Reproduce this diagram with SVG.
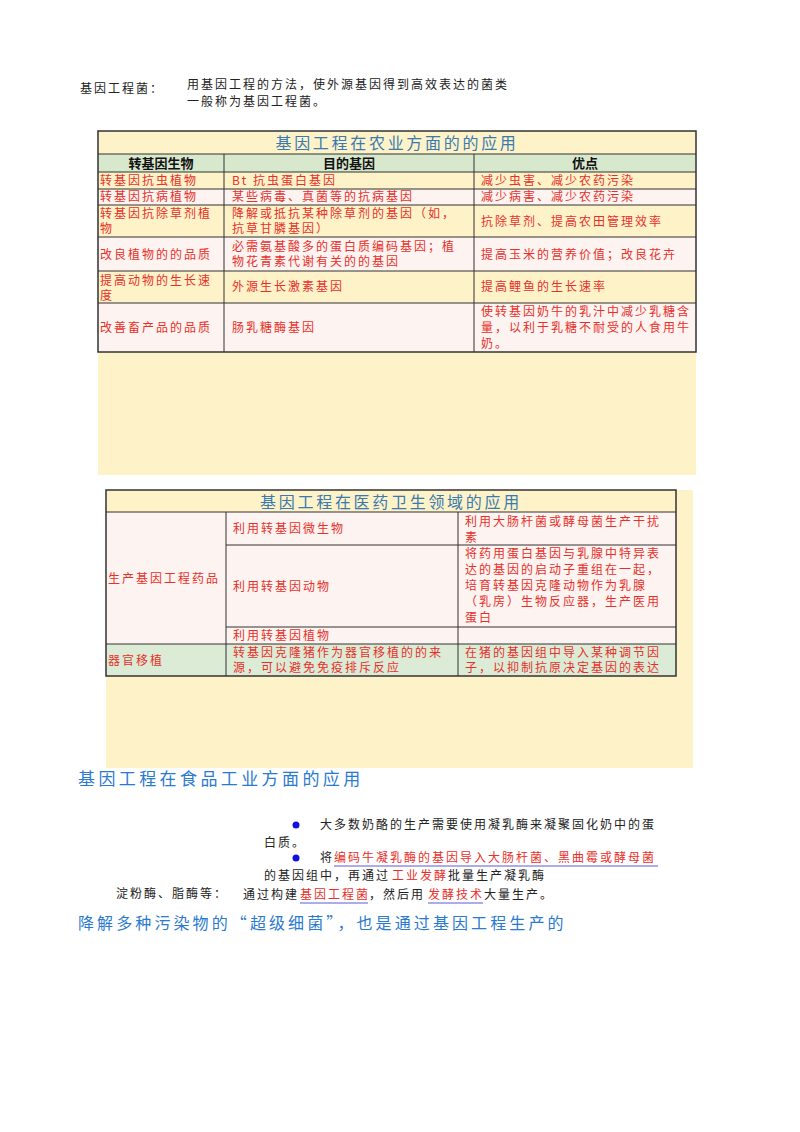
<svg xmlns="http://www.w3.org/2000/svg" width="800" height="1132" viewBox="0 0 800 1132">
<style>
text{font-family:"Noto Sans CJK SC","Liberation Serif",serif;}
.k{font-size:12px;fill:#222;letter-spacing:2px}
.r{font-size:12px;fill:#e8302a;letter-spacing:2px}
.h{font-size:13px;fill:#111;font-weight:bold}
.t{font-size:16px;fill:#3a7ab0;letter-spacing:2.7px}
.b{font-size:17px;fill:#2a7ad0;letter-spacing:3.4px}
.b2{font-size:16px;fill:#2a7ad0;letter-spacing:3.1px}
.g{stroke:#333;stroke-width:1;fill:none}
.u{stroke:#5a5ad8;stroke-width:1}
</style>
<rect width="800" height="1132" fill="#fff"/>
<g id="def">
<text class="k" x="80" y="93">基因工程菌：</text>
<text class="k" x="187" y="89">用基因工程的方法，使外源基因得到高效表达的菌类</text>
<text class="k" x="187" y="106">一般称为基因工程菌。</text>
</g>
<g id="table1">
<rect x="98" y="131" width="598" height="344" fill="#fdf2c8"/>
<rect x="98" y="154" width="598" height="18" fill="#d8e8cc"/>
<rect x="98" y="189" width="598" height="16" fill="#fdf3f0"/>
<rect x="98" y="237" width="598" height="34" fill="#fdf3f0"/>
<rect x="98" y="303" width="598" height="49" fill="#fdf3f0"/>
<g class="g">
<rect x="98" y="131" width="598" height="221" stroke-width="1.5"/>
<path d="M98 154H696M98 172H696M98 189H696M98 205H696M98 237H696M98 271H696M98 303H696M224 154V352M474 154V352"/>
</g>
<text class="t" x="397" y="149" text-anchor="middle">基因工程在农业方面的的应用</text>
<text class="h" x="161" y="168" text-anchor="middle">转基因生物</text>
<text class="h" x="349" y="168" text-anchor="middle">目的基因</text>
<text class="h" x="585" y="168" text-anchor="middle">优点</text>
<text class="r" x="100" y="185">转基因抗虫植物</text>
<text class="r" x="232" y="185">Bt 抗虫蛋白基因</text>
<text class="r" x="481" y="185">减少虫害、减少农药污染</text>
<text class="r" x="100" y="201">转基因抗病植物</text>
<text class="r" x="232" y="201">某些病毒、真菌等的抗病基因</text>
<text class="r" x="481" y="201">减少病害、减少农药污染</text>
<text class="r" x="100" y="218">转基因抗除草剂植</text>
<text class="r" x="100" y="233">物</text>
<text class="r" x="232" y="218">降解或抵抗某种除草剂的基因（如，</text>
<text class="r" x="232" y="233">抗草甘膦基因）</text>
<text class="r" x="481" y="226">抗除草剂、提高农田管理效率</text>
<text class="r" x="100" y="259">改良植物的的品质</text>
<text class="r" x="232" y="251">必需氨基酸多的蛋白质编码基因；植</text>
<text class="r" x="232" y="266">物花青素代谢有关的的基因</text>
<text class="r" x="481" y="259">提高玉米的营养价值；改良花卉</text>
<text class="r" x="100" y="285">提高动物的生长速</text>
<text class="r" x="100" y="300">度</text>
<text class="r" x="232" y="291">外源生长激素基因</text>
<text class="r" x="481" y="291">提高鲤鱼的生长速率</text>
<text class="r" x="100" y="332">改善畜产品的品质</text>
<text class="r" x="232" y="332">肠乳糖酶基因</text>
<text class="r" x="481" y="316">使转基因奶牛的乳汁中减少乳糖含</text>
<text class="r" x="481" y="332">量，以利于乳糖不耐受的人食用牛</text>
<text class="r" x="481" y="348">奶。</text>
</g>
<g id="table2">
<rect x="106" y="490" width="587" height="278" fill="#fdf2c8"/>
<rect x="106" y="512" width="570" height="132" fill="#fdf3f0"/>
<rect x="106" y="644" width="570" height="32" fill="#dcebd6"/>
<g class="g">
<rect x="106" y="490" width="570" height="186" stroke-width="1.5"/>
<path d="M106 512H676M226 545H676M226 627H676M106 644H676M226 512V676M458 512V676"/>
</g>
<text class="t" x="391" y="508" text-anchor="middle">基因工程在医药卫生领域的应用</text>
<text class="r" x="108" y="583">生产基因工程药品</text>
<text class="r" x="233" y="533">利用转基因微生物</text>
<text class="r" x="465" y="526">利用大肠杆菌或酵母菌生产干扰</text>
<text class="r" x="465" y="542">素</text>
<text class="r" x="233" y="591">利用转基因动物</text>
<text class="r" x="465" y="558">将药用蛋白基因与乳腺中特异表</text>
<text class="r" x="465" y="574">达的基因的启动子重组在一起，</text>
<text class="r" x="465" y="590">培育转基因克隆动物作为乳腺</text>
<text class="r" x="465" y="606">（乳房）生物反应器，生产医用</text>
<text class="r" x="465" y="622">蛋白</text>
<text class="r" x="233" y="640">利用转基因植物</text>
<text class="r" x="108" y="665">器官移植</text>
<text class="r" x="233" y="657">转基因克隆猪作为器官移植的的来</text>
<text class="r" x="233" y="672">源，可以避免免疫排斥反应</text>
<text class="r" x="465" y="657">在猪的基因组中导入某种调节因</text>
<text class="r" x="465" y="672">子，以抑制抗原决定基因的表达</text>
</g>
<g id="food">
<text class="b" x="78" y="785">基因工程在食品工业方面的应用</text>
<circle cx="296" cy="825" r="3.5" fill="#1010e0"/>
<text class="k" x="320" y="829">大多数奶酪的生产需要使用凝乳酶来凝聚固化奶中的蛋</text>
<text class="k" x="264" y="847">白质。</text>
<circle cx="296" cy="858" r="3.5" fill="#1010e0"/>
<text class="k" x="320" y="862">将</text>
<text class="r" x="334" y="862">编码牛凝乳酶的基因导入大肠杆菌、黑曲霉或酵母菌</text>
<line class="u" x1="334" y1="866" x2="658" y2="866"/>
<text class="k" x="264" y="880">的基因组中，再通过</text>
<text class="r" x="392" y="880">工业发酵</text>
<text class="k" x="448" y="880">批量生产凝乳酶</text>
<text class="k" x="116" y="898">淀粉酶、脂酶等：</text>
<text class="k" x="243" y="899">通过构建</text>
<text class="r" x="300" y="899">基因工程菌</text>
<line class="u" x1="300" y1="903" x2="368" y2="903"/>
<text class="k" x="369" y="899">，然后用</text>
<text class="r" x="428" y="899">发酵技术</text>
<line class="u" x1="428" y1="903" x2="483" y2="903"/>
<text class="k" x="484" y="899">大量生产。</text>
<text class="b2" x="78" y="929">降解多种污染物的“超级细菌”，也是通过基因工程生产的</text>
</g>
</svg>
